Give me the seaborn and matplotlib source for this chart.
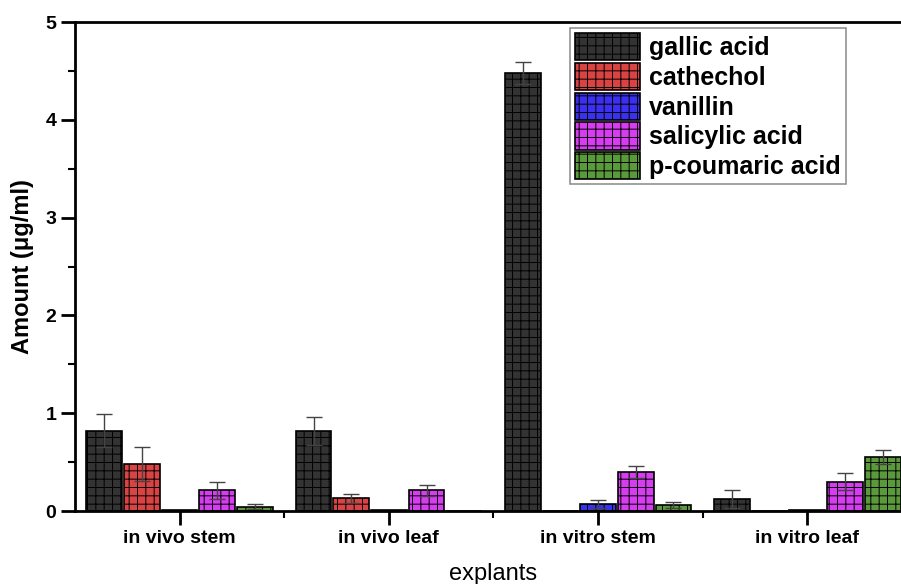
import pandas as pd
import matplotlib.pyplot as plt
import matplotlib.ticker as mticker
import seaborn as sns
import numpy as np

# chart values
explants = ['in vivo stem', 'in vivo leaf', 'in vitro stem', 'in vitro leaf']
compounds = ['gallic acid', 'cathechol', 'vanillin', 'salicylic acid', 'p-coumaric acid']

gallic = [0.82, 0.82, 4.48, 0.12]
cathechol = [0.48, 0.13, 0.0, 0.0]
vanillin = [0.01, 0.01, 0.07, 0.01]
salicylic = [0.21, 0.21, 0.40, 0.30]
coumaric = [0.045, 0.005, 0.06, 0.55]

gallic_err = [0.17, 0.14, 0.11, 0.09]
cathechol_err = [0.17, 0.045, 0.0, 0.0]
vanillin_err = [0.0, 0.0, 0.04, 0.0]
salicylic_err = [0.09, 0.06, 0.06, 0.09]
coumaric_err = [0.025, 0.0, 0.03, 0.07]

colors = ['#333333', '#d94343', '#3b2ff0', '#d63cf0', '#5b9a3c']

values = [gallic, cathechol, vanillin, salicylic, coumaric]
errors = [gallic_err, cathechol_err, vanillin_err, salicylic_err, coumaric_err]

rows = []
for c, vals in zip(compounds, values):
    for e, v in zip(explants, vals):
        rows.append({'explant': e, 'compound': c, 'amount': v})
df = pd.DataFrame(rows)

sns.set_style('ticks')
plt.rcParams['font.family'] = ['Liberation Sans', 'DejaVu Sans']
plt.rcParams['hatch.linewidth'] = 0.7
for key in ['text.color', 'axes.labelcolor', 'xtick.color', 'ytick.color', 'axes.edgecolor']:
    plt.rcParams[key] = 'black'

fig = plt.figure(figsize=(9.01, 5.84), dpi=100)
ax = fig.add_axes([0.0832, 0.125, 0.929, 0.837])

sns.barplot(data=df, x='explant', y='amount', hue='compound', order=explants,
            hue_order=compounds, palette=colors, errorbar=None, width=0.9, gap=0.05,
            edgecolor='black', linewidth=1.2, saturation=1, ax=ax)

for cont, errs in zip(ax.containers, errors):
    xs = []
    hs = []
    for bar in cont:
        bar.set_hatch('++')
        bar.set_edgecolor('black')
        xs.append(bar.get_x() + bar.get_width() / 2)
        hs.append(bar.get_height())
    errs = np.array(errs)
    m = errs > 0
    ax.errorbar(np.array(xs)[m], np.array(hs)[m], yerr=errs[m], fmt='none',
                ecolor='#444444', elinewidth=1, capsize=6, capthick=1)

ax.set_xlim(-0.5, 3.5)
ax.set_ylim(0, 5)
ax.yaxis.set_major_locator(mticker.MultipleLocator(1))
ax.yaxis.set_minor_locator(mticker.MultipleLocator(0.5))
ax.xaxis.set_minor_locator(mticker.FixedLocator([0.5, 1.5, 2.5]))
ax.tick_params(axis='both', which='major', direction='out', length=10, width=2,
               labelsize=14)
ax.tick_params(axis='both', which='minor', direction='out', length=5, width=1.5)
for lab in ax.get_xticklabels() + ax.get_yticklabels():
    lab.set_fontweight('bold')
for sp in ax.spines.values():
    sp.set_visible(True)
    sp.set_linewidth(2)

ax.set_ylabel('Amount (μg/ml)', fontsize=17, fontweight='bold', labelpad=8)
ax.set_xlabel('explants', fontsize=17, labelpad=12)

leg = ax.legend(loc='upper right', bbox_to_anchor=(0.921, 0.988),
                prop={'weight': 'bold', 'size': 18}, handlelength=2.6,
                handleheight=1.3, handletextpad=0.35, labelspacing=0.1,
                borderpad=0.2, borderaxespad=0, fancybox=False, frameon=True)
leg.get_frame().set_edgecolor('#777777')
leg.get_frame().set_linewidth(1.2)
for h in leg.legend_handles:
    h.set_hatch('++')
    h.set_edgecolor('black')

fig.savefig('out.png', dpi=100)
